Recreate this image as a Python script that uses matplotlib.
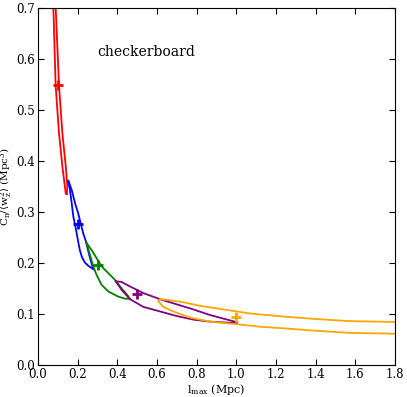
import numpy as np
import matplotlib.pyplot as plt

plt.rcParams['font.family'] = 'DejaVu Serif'
plt.rcParams['mathtext.fontset'] = 'dejavuserif'

# contour branches (x = l_max, y = C_n/<w_z^2>)
red_outer_x = [0.087, 0.106, 0.123, 0.140, 0.148, 0.145]
red_outer_y = [0.72, 0.547, 0.454, 0.389, 0.350, 0.335]
red_inner_x = [0.076, 0.089, 0.106, 0.123, 0.140, 0.145]
red_inner_y = [0.72, 0.547, 0.454, 0.389, 0.336, 0.335]

blue_outer_x = [0.153, 0.170, 0.187, 0.203, 0.215, 0.228, 0.242, 0.254, 0.267, 0.279]
blue_outer_y = [0.361, 0.343, 0.317, 0.297, 0.278, 0.258, 0.242, 0.222, 0.203, 0.188]
blue_inner_x = [0.153, 0.161, 0.170, 0.178, 0.187, 0.195, 0.203, 0.211, 0.222, 0.236, 0.255, 0.271, 0.279]
blue_inner_y = [0.361, 0.343, 0.317, 0.291, 0.275, 0.258, 0.241, 0.225, 0.211, 0.201, 0.194, 0.190, 0.188]

green_outer_x = [0.245, 0.271, 0.296, 0.321, 0.355, 0.388, 0.422, 0.455, 0.462]
green_outer_y = [0.239, 0.225, 0.209, 0.193, 0.180, 0.167, 0.150, 0.135, 0.130]
green_inner_x = [0.245, 0.262, 0.279, 0.296, 0.321, 0.355, 0.405, 0.440, 0.462]
green_inner_y = [0.239, 0.216, 0.193, 0.176, 0.157, 0.144, 0.134, 0.130, 0.130]

purple_outer_x = [0.392, 0.420, 0.464, 0.531, 0.615, 0.699, 0.783, 0.867, 1.002]
purple_outer_y = [0.164, 0.163, 0.154, 0.141, 0.129, 0.119, 0.109, 0.098, 0.084]
purple_inner_x = [0.392, 0.422, 0.464, 0.531, 0.615, 0.699, 0.783, 0.867, 1.002]
purple_inner_y = [0.164, 0.147, 0.129, 0.114, 0.105, 0.096, 0.089, 0.085, 0.082]

orange_outer_x = [0.607, 0.615, 0.666, 0.733, 0.817, 0.901, 0.985, 1.069, 1.237, 1.405, 1.573, 1.85]
orange_outer_y = [0.125, 0.129, 0.127, 0.123, 0.116, 0.111, 0.106, 0.101, 0.095, 0.090, 0.086, 0.084]
orange_inner_x = [0.607, 0.632, 0.682, 0.766, 0.867, 1.002, 1.120, 1.237, 1.405, 1.573, 1.85]
orange_inner_y = [0.125, 0.114, 0.105, 0.093, 0.085, 0.080, 0.075, 0.072, 0.067, 0.063, 0.061]

# best-fit points
best_x = [0.1, 0.2, 0.3, 0.5, 1.0]
best_y = [0.548, 0.277, 0.197, 0.139, 0.095]
colors = ['red', 'blue', 'green', 'purple', 'orange']

fig = plt.figure(figsize=(4.07, 3.97), dpi=100)
ax = fig.add_axes([0.0934, 0.0806, 0.877, 0.8994])

branches = [
    (red_outer_x, red_outer_y, red_inner_x, red_inner_y),
    (blue_outer_x, blue_outer_y, blue_inner_x, blue_inner_y),
    (green_outer_x, green_outer_y, green_inner_x, green_inner_y),
    (purple_outer_x, purple_outer_y, purple_inner_x, purple_inner_y),
    (orange_outer_x, orange_outer_y, orange_inner_x, orange_inner_y),
]
for (ox, oy, ix, iy), c in zip(branches, colors):
    ax.plot(ox, oy, color=c, lw=1.3)
    ax.plot(ix, iy, color=c, lw=1.3)

for bx, by, c in zip(best_x, best_y, colors):
    ax.plot(bx, by, marker='+', color=c, ms=7, mew=2)

ax.text(0.3, 0.605, 'checkerboard', fontsize=10)

ax.set_xlim(0, 1.8)
ax.set_ylim(0, 0.7)
ax.set_xticks(np.arange(0, 1.81, 0.2))
ax.set_yticks(np.arange(0, 0.71, 0.1))
ax.tick_params(direction='in', top=True, right=True, labelsize=8.5, length=4, pad=2)
ax.set_xlabel(r'$\mathrm{l_{max}\ (Mpc)}$', fontsize=8, labelpad=1)
ax.set_ylabel(r'$\mathrm{C_n/\langle w_z^2\rangle\ (Mpc^3)}$', fontsize=7.5, labelpad=1)
ax.yaxis.set_label_coords(-0.068, 0.5)

fig.savefig('out.png', dpi=100)
